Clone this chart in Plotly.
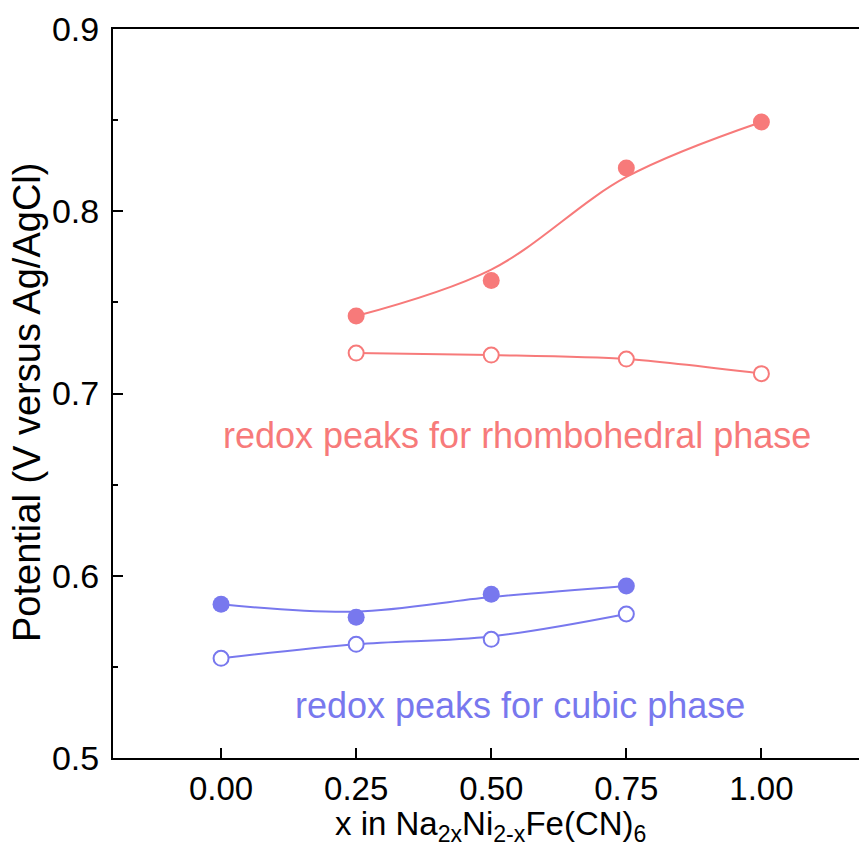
import plotly.graph_objects as go

x_vals = [0.00, 0.25, 0.50, 0.75, 1.00]
x_cubic = [0.00, 0.25, 0.50, 0.75]
x_rhombo = [0.25, 0.50, 0.75, 1.00]

rhombo_ox = [0.7425, 0.762, 0.8237, 0.849]
rhombo_ox_fit = [0.7425, 0.768, 0.8188, 0.849]
rhombo_red = [0.7222, 0.7211, 0.7189, 0.7109]

cubic_ox = [0.5843, 0.5772, 0.5898, 0.5944]
cubic_ox_fit = [0.5843, 0.5803, 0.5883, 0.5944]
cubic_red = [0.5547, 0.5624, 0.5651, 0.579]
cubic_red_fit = [0.5547, 0.5624, 0.5667, 0.579]

tick_labels = ["0.00", "0.25", "0.50", "0.75", "1.00"]

RED = "#F77A7A"
BLUE = "#7878EE"
FONT = "Arial, Liberation Sans, sans-serif"

fig = go.Figure()

# smooth fit lines
fig.add_trace(go.Scatter(x=x_rhombo, y=rhombo_ox_fit, mode="lines",
                         line=dict(color=RED, width=2, shape="spline", smoothing=1.0),
                         hoverinfo="skip", showlegend=False))
fig.add_trace(go.Scatter(x=x_rhombo, y=rhombo_red, mode="lines",
                         line=dict(color=RED, width=2, shape="spline", smoothing=0.8),
                         hoverinfo="skip", showlegend=False))
fig.add_trace(go.Scatter(x=x_cubic, y=cubic_ox_fit, mode="lines",
                         line=dict(color=BLUE, width=2, shape="spline", smoothing=1.0),
                         hoverinfo="skip", showlegend=False))
fig.add_trace(go.Scatter(x=x_cubic, y=cubic_red_fit, mode="lines",
                         line=dict(color=BLUE, width=2, shape="spline", smoothing=1.0),
                         hoverinfo="skip", showlegend=False))

# markers
fig.add_trace(go.Scatter(x=x_rhombo, y=rhombo_ox, mode="markers",
                         marker=dict(color=RED, size=17, line=dict(width=0)),
                         showlegend=False))
fig.add_trace(go.Scatter(x=x_rhombo, y=rhombo_red, mode="markers",
                         marker=dict(color="white", size=15, line=dict(color=RED, width=2)),
                         showlegend=False))
fig.add_trace(go.Scatter(x=x_cubic, y=cubic_ox, mode="markers",
                         marker=dict(color=BLUE, size=17, line=dict(width=0)),
                         showlegend=False))
fig.add_trace(go.Scatter(x=x_cubic, y=cubic_red, mode="markers",
                         marker=dict(color="white", size=15, line=dict(color=BLUE, width=2)),
                         showlegend=False))

fig.add_annotation(x=0.548, y=0.6767, xref="x", yref="y",
                   text="redox peaks for rhombohedral phase", showarrow=False,
                   font=dict(family=FONT, size=36, color=RED))
fig.add_annotation(x=0.554, y=0.529, xref="x", yref="y",
                   text="redox peaks for cubic phase", showarrow=False,
                   font=dict(family=FONT, size=36, color=BLUE))

# axis titles
fig.add_annotation(x=0.5054, y=-0.062, xref="paper", yref="paper",
                   xanchor="center", yanchor="top",
                   text="x in Na<sub>2x</sub>Ni<sub>2-x</sub>Fe(CN)<sub>6</sub>",
                   showarrow=False, font=dict(family=FONT, size=33, color="black"))
fig.add_annotation(x=-0.1153, y=0.4883, xref="paper", yref="paper",
                   xanchor="center", yanchor="middle", textangle=-90,
                   text="Potential (V versus Ag/AgCl)",
                   showarrow=False, font=dict(family=FONT, size=38, color="black"))

fig.update_layout(
    width=859, height=848,
    margin=dict(l=113, r=0, t=29, b=90),
    plot_bgcolor="white", paper_bgcolor="white",
    font=dict(family=FONT, size=34, color="black"),
    xaxis=dict(range=[-0.2, 1.1806], tickvals=x_vals, ticktext=tick_labels,
               ticks="inside", ticklen=10, tickwidth=2, tickcolor="black",
               showline=True, linewidth=2, linecolor="black", mirror=True,
               showgrid=False, zeroline=False, ticklabelstandoff=0,
               tickfont=dict(family=FONT, size=33)),
    yaxis=dict(range=[0.5, 0.9], dtick=0.1, tick0=0.5, tickformat=".1f",
               ticks="inside", ticklen=10, tickwidth=2, tickcolor="black",
               minor=dict(ticks="inside", ticklen=5, dtick=0.05, tickwidth=2, tickcolor="black"),
               showline=True, linewidth=2, linecolor="black", mirror=False,
               showgrid=False, zeroline=False, ticklabelstandoff=5,
               tickfont=dict(family=FONT, size=34)),
)

fig.write_html("out.html")
